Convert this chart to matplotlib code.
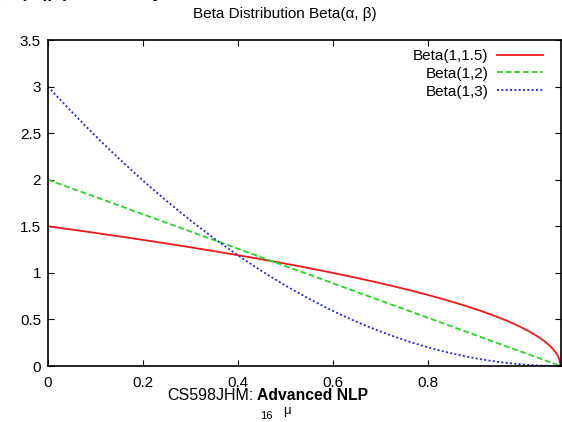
"""
Beta densities Beta(1,b) for b = 1.5, 2, 3, gnuplot-like slide crop.
"""
import numpy as np
import matplotlib
matplotlib.use("Agg")
from matplotlib import pyplot as plt
from math import gamma

plt.rcParams['font.family'] = ['Liberation Sans', 'DejaVu Sans']

# curve parameters (alpha, beta) and styles
alphas = [1, 1, 1]
betas = [1.5, 2, 3]
labels = ["Beta(1,1.5)", "Beta(1,2)", "Beta(1,3)"]
colors = ['#f01818', '#22d822', '#2222f0']
styles = ['-', (0, (3.2, 1.6)), (0, (1.1, 1.3))]

# tick positions as they sit in the picture, and their labels
xtick_pos = [0, 0.1854, 0.3707, 0.5561, 0.7415]
xtick_lab = ["0", "0.2", "0.4", "0.6", "0.8"]
ytick_pos = [0, 0.5, 1, 1.5, 2, 2.5, 3, 3.5]
ytick_lab = ["0", "0.5", "1", "1.5", "2", "2.5", "3", "3.5"]

mu = np.linspace(0, 1, 400)

fig = plt.figure(figsize=(5.62, 4.22), dpi=100)
ax = fig.add_axes([48/562, 1-366/422, 512.5/562, 326/422])

for a, b, lab, c, ls in zip(alphas, betas, labels, colors, styles):
    norm = gamma(a+b)/(gamma(a)*gamma(b))
    yy = norm*mu**(a-1)*(1-mu)**(b-1)
    ax.plot(mu, yy, color=c, ls=ls, lw=1.3, label=lab)

ax.set_xlim(0, 1)
ax.set_ylim(0, 3.5)
ax.set_xticks(xtick_pos, xtick_lab)
ax.set_yticks(ytick_pos, ytick_lab)
ax.tick_params(direction='in', top=True, right=True, length=4.5, width=0.8,
               labelsize=11)
ax.tick_params(axis='x', pad=7)
ax.tick_params(axis='y', pad=5)
for s in ax.spines.values():
    s.set_linewidth(1.2)

leg = ax.legend(loc='upper right', bbox_to_anchor=(0.99, 1.01), frameon=False,
                fontsize=11, markerfirst=False, handlelength=3.0,
                handletextpad=0.6, labelspacing=0.25, borderpad=0.3)
for t in leg.get_texts():
    t.set_ha('right')

fig.text(285/562, 1-14/422, "Beta Distribution Beta(α, β)", ha='center',
         va='center', fontsize=11)
# cut-off line of the slide above
fig.text(-3/562, 1+5/422, "), p(μ) is fairly flat", ha='left',
         va='baseline', fontsize=20)

# slide footer
fig.text(167/562, 1-400/422, "CS598JHM:", ha='left', va='baseline',
         fontsize=11.5)
fig.text(257/562, 1-400/422, "Advanced NLP", ha='left', va='baseline',
         fontsize=11.3, fontweight='bold')
fig.text(266/562, 1-419/422, "16", ha='center', va='baseline', fontsize=8)
fig.text(287/562, 1-411/422, "μ", ha='center', va='center', fontsize=9.5)

fig.savefig("out.png", dpi=100)
